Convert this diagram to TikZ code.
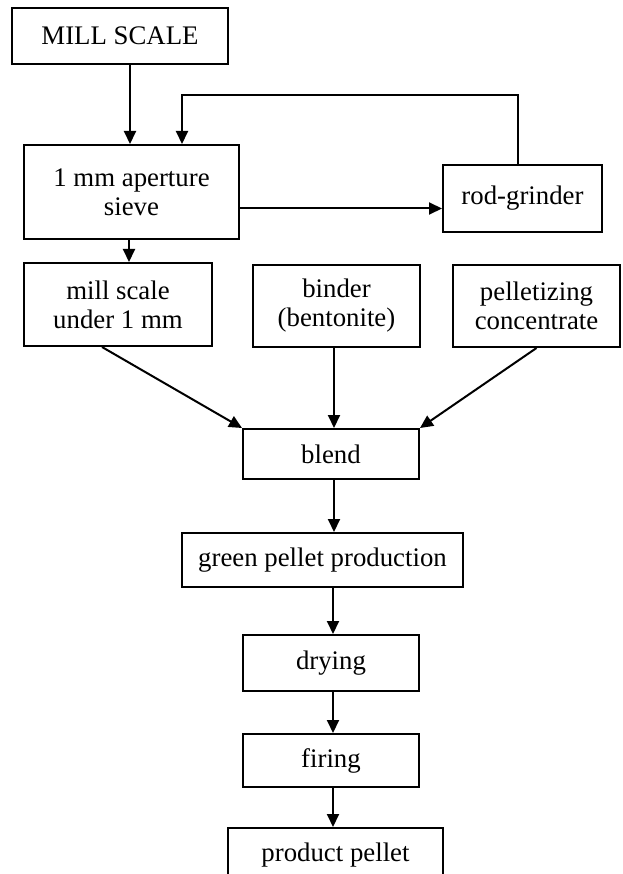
\documentclass[tikz,border=0pt]{standalone}
\usepackage{fontspec}
\setmainfont{Liberation Serif}
\usetikzlibrary{arrows.meta,calc}
\begin{document}
\begin{tikzpicture}[x=1pt,y=-1pt,
  box/.style={draw=black,line width=2pt,inner sep=0pt,align=center,
    font=\fontsize{26.8}{29}\selectfont},
  arr/.style={draw=black,line width=2pt,-{Triangle[length=13pt,width=12pt]}}]
\useasboundingbox[fill=white] (0,0) rectangle (622,874);
\node[box,minimum width=216pt,minimum height=56pt] (mill) at (120,36) {MILL SCALE};
\node[box,minimum width=215pt,minimum height=94pt] (sieve) at (131.5,192) {1 mm aperture\\sieve};
\node[box,minimum width=159pt,minimum height=67pt] (rod) at (522.5,198.5) {rod-grinder};
\node[box,minimum width=188pt,minimum height=83pt] (ms) at (118,304.5) {mill scale\\under 1 mm};
\node[box,minimum width=167pt,minimum height=82pt] (binder) at (336.5,306) {binder\\(bentonite)};
\node[box,minimum width=167pt,minimum height=82pt] (pell) at (536.5,306) {pelletizing\\concentrate};
\node[box,minimum width=176pt,minimum height=50pt] (blend) at (331,454) {blend};
\node[box,minimum width=281pt,minimum height=54pt] (green) at (322.5,560) {green pellet production};
\node[box,minimum width=176pt,minimum height=56pt] (drying) at (331,663) {drying};
\node[box,minimum width=176pt,minimum height=53pt] (firing) at (331,760.5) {firing};
\node[box,minimum width=215pt,minimum height=54pt] (product) at (335.5,855) {product pellet};
\coordinate (fbturn) at (182,95);
\draw[arr] ([xshift=10pt]mill.south) -- ([xshift=-1.5pt]sieve.north);
\draw[arr] ([xshift=-4.5pt]rod.north) |- (fbturn) -- (sieve.north -| fbturn);
\draw[arr] ([yshift=-16.5pt]sieve.east) -- ([yshift=-16.5pt]sieve.east -| rod.west);
\draw[arr] ([xshift=-2.5pt]sieve.south) -- ([xshift=11pt]ms.north);
\draw[arr] ([xshift=-16pt]ms.south) -- (blend.north west);
\draw[arr] ([xshift=-2.5pt]binder.south) -- ([xshift=3pt]blend.north);
\draw[arr] (pell.south) -- (blend.north east);
\draw[arr] ([xshift=3pt]blend.south) -- ([xshift=11.5pt]green.south |- green.north);
\draw[arr] ([xshift=2pt]green.south -| blend.south) -- ([xshift=2pt]drying.north);
\draw[arr] ([xshift=2pt]drying.south) -- ([xshift=2pt]firing.north);
\draw[arr] ([xshift=2pt]firing.south) -- ([xshift=-2.5pt]product.north);
\end{tikzpicture}
\end{document}
